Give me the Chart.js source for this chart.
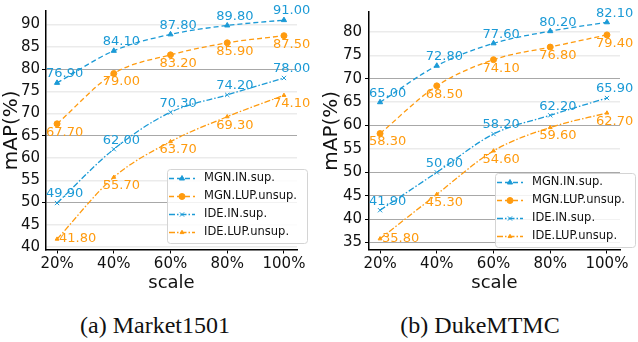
<!DOCTYPE html>
<html>
<head>
<meta charset="utf-8">
<script src="https://cdn.jsdelivr.net/npm/chart.js@4.4.0/dist/chart.umd.min.js"></script>
<style>
  body { margin: 0; background: #fff; width: 638px; height: 342px; position: relative; overflow: hidden; }
  canvas { position: absolute; top: 0; }
  #market { left: 0; }
  #duke { left: 320px; }
  .caption { position: absolute; top: 313px; width: 320px; text-align: center;
             font: 24px/24px 'Liberation Serif', 'Times New Roman', serif; color: #111; }
</style>
</head>
<body>
<canvas id="market" width="319" height="300"></canvas>
<canvas id="duke" width="318" height="300"></canvas>
<div class="caption" style="left:-5px">(a) Market1501</div>
<div class="caption" style="left:320px">(b) DukeMTMC</div>
<script>
// x categories (percent of training data)
const scales = [20, 40, 60, 80, 100];
const names = ['MGN.IN.sup.', 'MGN.LUP.unsup.', 'IDE.IN.sup.', 'IDE.LUP.unsup.'];

// Market1501
const marketMgnIn = [76.9, 84.1, 87.8, 89.8, 91.0];
const marketMgnLup = [67.7, 79.0, 83.2, 85.9, 87.5];
const marketIdeIn = [49.9, 62.0, 70.3, 74.2, 78.0];
const marketIdeLup = [41.8, 55.7, 63.7, 69.3, 74.1];
const marketYTicks = [40, 45, 50, 55, 60, 65, 70, 75, 80, 85, 90];
const marketMajor = [50, 65, 80];

// DukeMTMC
const dukeMgnIn = [65.0, 72.8, 77.6, 80.2, 82.1];
const dukeMgnLup = [58.3, 68.5, 74.1, 76.8, 79.4];
const dukeIdeIn = [41.9, 50.0, 58.2, 62.2, 65.9];
const dukeIdeLup = [35.8, 45.3, 54.6, 59.6, 62.7];
const dukeYTicks = [35, 40, 45, 50, 55, 60, 65, 70, 75, 80];
const dukeMajor = [35, 40, 45, 50, 60, 70];

const BLUE = '#1b9ad6';
const ORANGE = '#ff9b0f';
const FONT = 'DejaVu Sans';

const styles = [
  { color: BLUE, dash: [5, 3], point: 'triangle', radius: 3, side: 'above' },
  { color: ORANGE, dash: [5, 3], point: 'circle', radius: 3, side: 'below' },
  { color: BLUE, dash: [6, 2, 1.5, 2], point: 'crossRot', radius: 3, side: 'above' },
  { color: ORANGE, dash: [6, 2, 1.5, 2], point: 'triangle', radius: 2.2, side: 'below' },
];

// value labels next to every point
const pointLabels = {
  id: 'pointLabels',
  afterDatasetsDraw(chart) {
    const ctx = chart.ctx;
    const area = chart.chartArea;
    ctx.save();
    ctx.font = '13px "' + FONT + '"';
    ctx.textBaseline = 'middle';
    ctx.textAlign = 'left';
    chart.data.datasets.forEach((ds, i) => {
      const meta = chart.getDatasetMeta(i);
      ctx.fillStyle = ds.borderColor;
      meta.data.forEach((pt, j) => {
        const text = ds.data[j].y.toFixed(2);
        let x = pt.x - 11;
        let y = ds.labelSide === 'above' ? pt.y - 9 : pt.y + 8.5;
        if (y + 6 > area.bottom) { // no room under the point: put it to the right
          x = pt.x + 2;
          y = pt.y;
        }
        ctx.fillText(text, x, y);
      });
    });
    ctx.restore();
  }
};

// framed legend inside the plot, like matplotlib's
const boxLegend = {
  id: 'boxLegend',
  afterDraw(chart, args, opts) {
    const ctx = chart.ctx;
    const w = 140, h = 74, rowH = 18;
    const left = opts.right - w, top = opts.bottom - h;
    ctx.save();
    ctx.beginPath();
    ctx.roundRect(left + 0.5, top + 0.5, w, h, 3);
    ctx.fillStyle = 'rgba(255,255,255,0.85)';
    ctx.fill();
    ctx.strokeStyle = '#d4d4d4';
    ctx.lineWidth = 1;
    ctx.stroke();
    chart.data.datasets.forEach((ds, i) => {
      const y = top + 9.5 + i * rowH;
      ctx.setLineDash(ds.borderDash);
      ctx.strokeStyle = ds.borderColor;
      ctx.lineWidth = ds.borderWidth;
      ctx.beginPath();
      ctx.moveTo(left + 2, y);
      ctx.lineTo(left + 28, y);
      ctx.stroke();
      ctx.setLineDash([]);
      ctx.fillStyle = ds.borderColor;
      ctx.lineWidth = 1;
      if (Chart.helpers && Chart.helpers.drawPoint) {
        Chart.helpers.drawPoint(ctx, { pointStyle: ds.pointStyle, radius: ds.pointRadius, borderWidth: 1, rotation: 0 }, left + 15, y);
      }
      ctx.fillStyle = '#111';
      ctx.font = '11.5px "' + FONT + '"';
      ctx.textBaseline = 'middle';
      ctx.fillText(ds.label, left + 37, y);
    });
    ctx.restore();
  }
};

function buildChart(id, series, cfg) {
  const isMajor = c => c.tick && cfg.major.includes(c.tick.value);
  return new Chart(document.getElementById(id), {
    type: 'line',
    data: {
      datasets: series.map((vals, i) => ({
        label: names[i],
        data: vals.map((v, j) => ({ x: scales[j], y: v })),
        borderColor: styles[i].color,
        backgroundColor: styles[i].color,
        pointBackgroundColor: styles[i].color,
        pointBorderColor: styles[i].color,
        borderWidth: 1.3,
        borderDash: styles[i].dash,
        pointStyle: styles[i].point,
        pointRadius: styles[i].radius,
        pointBorderWidth: 1,
        cubicInterpolationMode: 'monotone',
        clip: false,
        labelSide: styles[i].side,
      })),
    },
    options: {
      responsive: false,
      animation: false,
      layout: { padding: { top: 3, right: cfg.padRight, left: 0, bottom: 0 } },
      plugins: {
        legend: { display: false },
        tooltip: { enabled: false },
        boxLegend: { right: cfg.legendRight, bottom: cfg.legendBottom },
      },
      scales: {
        x: {
          type: 'linear',
          min: 16.1,
          max: 104.6,
          afterBuildTicks: s => { s.ticks = scales.map(v => ({ value: v })); },
          afterFit: s => { s.height = 50.5; },
          grid: { drawOnChartArea: false, tickLength: 4, color: '#000' },
          border: { color: '#000', width: 1.5 },
          ticks: { callback: v => v + '%', font: { family: FONT, size: 15 }, color: '#111', padding: 2, maxRotation: 0 },
          title: { display: true, text: 'scale', font: { family: FONT, size: 18 }, color: '#111', padding: { top: 0, bottom: 6 } },
        },
        y: {
          min: cfg.yMin,
          max: cfg.yMax,
          afterBuildTicks: s => { s.ticks = cfg.yTicks.map(v => ({ value: v })); },
          afterFit: s => { s.width = cfg.axisWidth; },
          grid: {
            color: c => isMajor(c) ? '#a8a8a8' : '#ebebeb',
            lineWidth: c => isMajor(c) ? 1 : 1.5,
            tickColor: c => isMajor(c) ? '#000' : 'rgba(0,0,0,0)',
            tickLength: 4,
          },
          border: { color: '#000', width: 1.5 },
          ticks: { font: { family: FONT, size: 15 }, color: '#111', padding: cfg.tickPad },
          title: { display: true, text: 'mAP(%)', font: { family: FONT, size: 20 }, color: '#111', padding: 0 },
        },
      },
    },
    plugins: [pointLabels, boxLegend],
  });
}

buildChart('market', [marketMgnIn, marketMgnLup, marketIdeIn, marketIdeLup], {
  yMin: 39.46, yMax: 93.05, yTicks: marketYTicks, major: marketMajor,
  axisWidth: 46, tickPad: 2, padRight: 22, legendRight: 307, legendBottom: 243,
});

buildChart('duke', [dukeMgnIn, dukeMgnLup, dukeIdeIn, dukeIdeLup], {
  yMin: 33.5, yMax: 84.3, yTicks: dukeYTicks, major: dukeMajor,
  axisWidth: 49, tickPad: 3, padRight: 18, legendRight: 315, legendBottom: 247,
});
</script>
</body>
</html>
